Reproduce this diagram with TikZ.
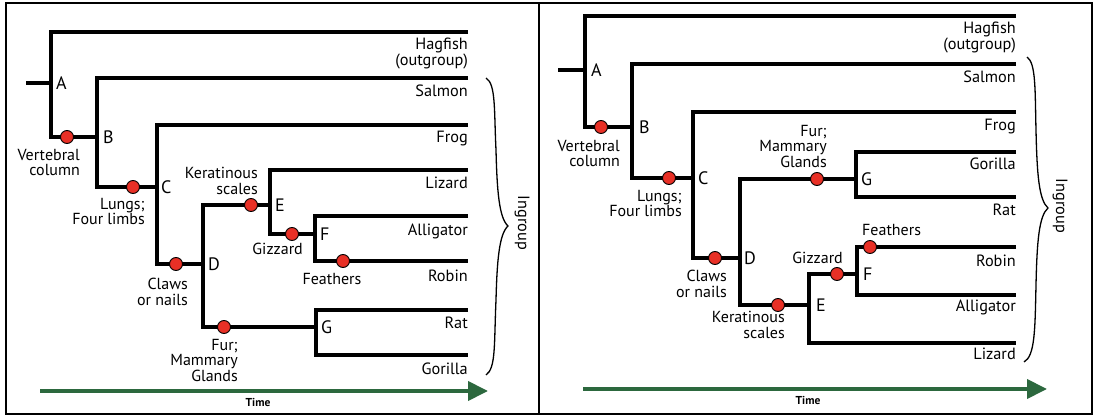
\documentclass[tikz,border=0pt]{standalone}
\usepackage{fontspec}
\setmainfont{PT Sans}
\usetikzlibrary{positioning,arrows.meta}
\definecolor{dotred}{RGB}{232,48,38}
\definecolor{timegreen}{RGB}{44,104,62}

\begin{document}
\begin{tikzpicture}[x=1pt,y=-1pt,
  branch/.style={line width=4pt},
  trait/.style={circle,draw=black,fill=dotred,line width=0.9pt,minimum size=13pt,inner sep=0pt},
  taxon/.style={inner sep=0pt,align=right,font=\fontsize{16.3}{15.5}\selectfont},
  feature/.style={inner sep=0pt,align=right,font=\fontsize{16}{15.5}\selectfont},
  clade/.style={inner sep=0pt,font=\fontsize{18}{18}\selectfont},
  brace/.style={line width=1.3pt},
  timeline/.style={timegreen,line width=4pt,-{Triangle[length=20pt,width=19pt]}},
  timelabel/.style={font=\bfseries\fontsize{11.5}{12}\selectfont}]

\useasboundingbox (0,0) rectangle (1101,419);
\draw[line width=2.5pt] (6,3) rectangle (1092,414);
\draw[line width=2.5pt] (539,3) -- (539,414);

% left tree
\coordinate (lroot) at (26,83);
\coordinate (lA) at (51,83);
\coordinate (lB) at (97,137);
\coordinate (lC) at (157,187);
\coordinate (lD) at (203,264);
\coordinate (lE) at (270,205);
\coordinate (lF) at (315,234);
\coordinate (lG) at (316,327);
\coordinate (lhag) at (468,32);
\coordinate (lsal) at (468,78);
\coordinate (lfrog) at (468,125);
\coordinate (lliz) at (468,170);
\coordinate (lall) at (468,216);
\coordinate (lrob) at (468,261);
\coordinate (lrat) at (468,310);
\coordinate (lgor) at (468,355);

\draw[branch] (lroot) -- (lA);
\draw[branch] (lhag) -| (lA) |- (lB);
\draw[branch] (lsal) -| (lB) |- (lC);
\draw[branch] (lfrog) -| (lC) |- (lD);
\draw[branch] (lE) -| (lD) |- (lG);
\draw[branch] (lliz) -| (lE) |- (lF);
\draw[branch] (lall) -| (lF) |- (lrob);
\draw[branch] (lrat) -| (lG) |- (lgor);

\node[clade,right=5pt of lA] {A};
\node[clade,right=6pt of lB] {B};
\node[clade,right=4pt of lC] {C};
\node[clade,right=5pt of lD] {D};
\node[clade,right=5pt of lE] {E};
\node[clade,right=5pt of lF] {F};
\node[clade,right=5pt of lG] {G};

\node[trait] (lvert) at (67,137) {};
\node[trait] (llung) at (133,187) {};
\node[trait] (lclaw) at (176,264) {};
\node[trait] (lkera) at (251,205) {};
\node[trait] (lgizz) at (292,234) {};
\node[trait] (lfeat) at (343,261) {};
\node[trait] (lfur) at (224,327) {};

\node[feature,anchor=north east] at (80,149) {Vertebral\\column};
\node[feature,anchor=north east] at (145,198) {Lungs;\\Four limbs};
\node[feature,anchor=north east] at (188,278) {Claws\\or nails};
\node[feature,anchor=north east] at (258,167) {Keratinous\\scales};
\node[feature,anchor=north east] at (303,243) {Gizzard};
\node[feature,anchor=north] at (332,273) {Feathers};
\node[feature,anchor=north east] at (238,339) {Fur;\\Mammary\\Glands};

\node[taxon,below left=6pt and 0pt of lhag] {Hagfish\\(outgroup)};
\node[taxon,below left=7pt and 0pt of lsal] {Salmon};
\node[taxon,below left=6pt and 0pt of lfrog] {Frog};
\node[taxon,below left=7pt and 0pt of lliz] {Lizard};
\node[taxon,below left=8pt and 0pt of lall] {Alligator};
\node[taxon,below left=9pt and 0pt of lrob] {Robin};
\node[taxon,below left=7pt and 0pt of lrat] {Rat};
\node[taxon,below left=8pt and 0pt of lgor] {Gorilla};

\draw[brace] (486,78) .. controls (496,84) and (494,110) .. (496,150)
  .. controls (497,190) and (499,218) .. (508,226)
  .. controls (499,234) and (497,262) .. (496,300)
  .. controls (494,345) and (496,368) .. (486,375);
\node[taxon,rotate=-90] at (522,223) {Ingroup};

\coordinate (ltime0) at (40,391);
\coordinate (ltime1) at (488,391);
\draw[timeline] (ltime0) -- (ltime1);
\node[timelabel] at (258,402) {Time};

% right tree
\coordinate (rroot) at (558,70);
\coordinate (rA) at (585,70);
\coordinate (rB) at (632,127);
\coordinate (rC) at (693,178);
\coordinate (rD) at (740,258);
\coordinate (rG) at (856,179);
\coordinate (rE) at (809,305);
\coordinate (rF) at (857,274);
\coordinate (rhag) at (1016,16);
\coordinate (rsal) at (1016,64);
\coordinate (rfrog) at (1016,112);
\coordinate (rgor) at (1016,152);
\coordinate (rrat) at (1016,197);
\coordinate (rrob) at (1016,247);
\coordinate (rall) at (1016,295);
\coordinate (rliz) at (1016,343);

\draw[branch] (rroot) -- (rA);
\draw[branch] (rhag) -| (rA) |- (rB);
\draw[branch] (rsal) -| (rB) |- (rC);
\draw[branch] (rfrog) -| (rC) |- (rD);
\draw[branch] (rG) -| (rD) |- (rE);
\draw[branch] (rgor) -| (rG) |- (rrat);
\draw[branch] (rF) -| (rE) |- (rliz);
\draw[branch] (rrob) -| (rF) |- (rall);

\node[clade,right=6pt of rA] {A};
\node[clade,right=7pt of rB] {B};
\node[clade,right=5pt of rC] {C};
\node[clade,right=4pt of rD] {D};
\node[clade,right=5pt of rG] {G};
\node[clade,right=7pt of rE] {E};
\node[clade,right=6pt of rF] {F};

\node[trait] (rvert) at (601,127) {};
\node[trait] (rlung) at (669,178) {};
\node[trait] (rclaw) at (715,258) {};
\node[trait] (rkera) at (778,305) {};
\node[trait] (rfur) at (817,179) {};
\node[trait] (rgizz) at (837,274) {};
\node[trait] (rfeat) at (870,247) {};

\node[feature,anchor=north east] at (620,140) {Vertebral\\column};
\node[feature,anchor=north east] at (682,190) {Lungs;\\Four limbs};
\node[feature,anchor=north east] at (727,270) {Claws\\or nails};
\node[feature,anchor=north east] at (785,311) {Keratinous\\scales};
\node[feature,anchor=north east] at (827,125) {Fur;\\Mammary\\Glands};
\node[feature,anchor=north east] at (843,252) {Gizzard};
\node[feature,anchor=north west] at (862,224) {Feathers};

\node[taxon,below left=6pt and 0pt of rhag] {Hagfish\\(outgroup)};
\node[taxon,below left=7pt and 0pt of rsal] {Salmon};
\node[taxon,below left=7pt and 0pt of rfrog] {Frog};
\node[taxon,below left=6pt and 0pt of rgor] {Gorilla};
\node[taxon,below left=7pt and 0pt of rrat] {Rat};
\node[taxon,below left=8pt and 0pt of rrob] {Robin};
\node[taxon,below left=5pt and 0pt of rall] {Alligator};
\node[taxon,below left=5pt and 0pt of rliz] {Lizard};

\draw[brace] (1027,57) .. controls (1036,63) and (1035,90) .. (1036,130)
  .. controls (1037,175) and (1039,200) .. (1048,208)
  .. controls (1039,216) and (1037,241) .. (1036,285)
  .. controls (1035,330) and (1035,356) .. (1024,362);
\node[taxon,rotate=-90] at (1060,206) {Ingroup};

\coordinate (rtime0) at (583,389);
\coordinate (rtime1) at (1047,389);
\draw[timeline] (rtime0) -- (rtime1);
\node[timelabel] at (808,400) {Time};

\end{tikzpicture}
\end{document}
